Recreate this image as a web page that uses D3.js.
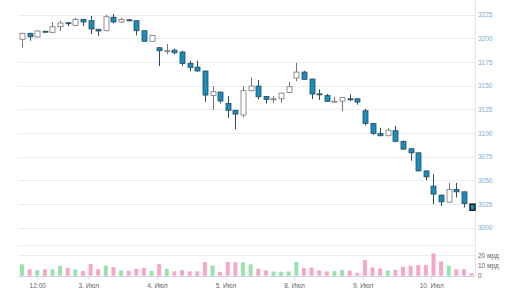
<!DOCTYPE html>
<html>
<head>
<meta charset="utf-8">
<script src="https://cdn.jsdelivr.net/npm/d3@7"></script>
<style>
  body { margin: 0; background: #fff; }
  svg { display: block; font-family: "Open Sans", sans-serif; }
  .domain { display: none; }
</style>
</head>
<body>
<svg width="516" height="290"></svg>
<script>
// hourly candles, 2 - 10 Jul
var openVals  = [3199, 3205.3, 3201.5, 3207.5, 3206.4, 3212.3, 3216.5, 3213.8, 3220.1, 3218.7,
                 3209.6, 3208.1, 3222.3, 3217.3, 3219.6, 3218.7, 3208.1, 3196.9, 3190.1, 3186.5,
                 3187.6, 3185.6, 3173.6, 3169.7, 3165.5, 3139.8, 3143.3, 3131.3, 3124, 3119,
                 3144.7, 3149.6, 3138.7, 3135.6, 3136.2, 3142.9, 3158.1, 3164.4, 3157, 3141.4,
                 3139.8, 3133.3, 3133.8, 3136.2, 3136.2, 3123.5, 3110.2, 3099.6, 3097.1, 3102.4,
                 3091.2, 3083.4, 3079.1, 3060, 3043.9, 3034.4, 3027, 3040.4, 3037.9, 3024.9];
var highVals  = [3206, 3206, 3208.5, 3208, 3217.3, 3218.7, 3217.3, 3221.5, 3220.5, 3223.6,
                 3210, 3225, 3225.7, 3221.6, 3220.5, 3219, 3208.5, 3203.5, 3190.5, 3194,
                 3189, 3187, 3176.4, 3176.4, 3165.8, 3149.6, 3143.5, 3139, 3124.5, 3149.6,
                 3158.8, 3156, 3139, 3139, 3142.5, 3153.9, 3174.3, 3165.8, 3157.5, 3146.2,
                 3141.2, 3138.3, 3138, 3140.8, 3136.5, 3125.6, 3110.5, 3105.5, 3105.5, 3107.6,
                 3092, 3084, 3079.5, 3060.5, 3056.6, 3035, 3047.4, 3047.4, 3038, 3025];
var lowVals   = [3190.5, 3197.5, 3201, 3206, 3206, 3207.8, 3212.7, 3213, 3213, 3204.6,
                 3202.5, 3207.5, 3215.9, 3216.5, 3218, 3203.2, 3196.5, 3196.5, 3170.8, 3183.4,
                 3183, 3170.8, 3165.2, 3165, 3133, 3124.3, 3131.3, 3115.8, 3104, 3116.5,
                 3144, 3135.6, 3131.3, 3131.3, 3132, 3142.5, 3154.6, 3156.5, 3135.9, 3134.9,
                 3133, 3133.2, 3123.2, 3133.5, 3129.9, 3108, 3098.2, 3096.8, 3096.8, 3091,
                 3082.5, 3070.7, 3059.5, 3050, 3024.9, 3022.8, 3026.5, 3032, 3021.4, 3018];
var closeVals = [3205.3, 3201.7, 3207.8, 3206.8, 3212.3, 3216.2, 3215.5, 3220.1, 3217.3, 3209.9,
                 3207.8, 3222.9, 3217.3, 3220.1, 3218.7, 3208.1, 3196.9, 3203.2, 3186.9, 3187,
                 3184.8, 3173.6, 3169.4, 3165.5, 3140.1, 3143.6, 3133.8, 3124, 3120, 3144.7,
                 3149.6, 3138.3, 3135.6, 3136.2, 3142.2, 3148.9, 3164.4, 3156.7, 3141.2, 3140.4,
                 3133.5, 3133.6, 3137.7, 3135.9, 3132.7, 3110.2, 3099.6, 3097.1, 3103, 3091.2,
                 3083, 3079.1, 3060, 3053.7, 3035.5, 3027.3, 3040.4, 3037.9, 3025.6, 3018.5];
// volume, billions
var volumeVals = [11, 6.2, 5.4, 6.2, 6.2, 9.5, 7.6, 6, 4.5, 11.2,
                  6.3, 9.8, 8.2, 5, 4.6, 6.6, 7.6, 4.7, 11.2, 6.7,
                  4.3, 5.4, 4.2, 4.2, 13.2, 9.8, 3.6, 13.2, 13, 13,
                  11, 6.7, 5.1, 4.1, 3.8, 4.1, 13.3, 7.3, 7.9, 5.1,
                  4.1, 4.4, 5.7, 4.8, 2.9, 15.2, 7.9, 7, 5.1, 5.7,
                  8.6, 9.5, 10.2, 10.2, 21.6, 13.7, 9.5, 6.3, 6.3, 2.5];

var priceTicks = [3000, 3025, 3050, 3075, 3100, 3125, 3150, 3175, 3200, 3225];
var volumeTicks = [0, 10, 20];
var volumeTickLabels = ["0", "10 мрд", "20 мрд"];
var volumeGrid = [20, 30];
var timeTicks = [2, 8.7, 17.7, 26.7, 35.7, 44.7, 53.7];
var timeTickLabels = ["12:00", "3. Июл", "4. Июл", "5. Июл", "8. Июл", "9. Июл", "10. Июл"];

var svg = d3.select("svg");

var candles = openVals.map(function(o, i) {
    return {i: i, open: o, high: highVals[i], low: lowVals[i], close: closeVals[i], vol: volumeVals[i]};
});

var x = d3.scaleLinear().domain([0, candles.length - 1]).range([22, 471.6]);
var y = d3.scaleLinear().domain([3000, 3225]).range([227.7, 14.7]);
var yv = d3.scaleLinear().domain([0, 20]).range([275.7, 255]);

var left = 18, right = 475;

// grid lines, price pane
svg.append("g").selectAll("line")
    .data(priceTicks)
    .enter().append("line")
    .attr("x1", left).attr("x2", right)
    .attr("y1", function(d) { return Math.round(y(d)) + 0.5; })
    .attr("y2", function(d) { return Math.round(y(d)) + 0.5; })
    .attr("stroke", "#ececec");

// grid lines, volume pane
svg.append("g").selectAll("line")
    .data(volumeGrid)
    .enter().append("line")
    .attr("x1", left).attr("x2", right)
    .attr("y1", function(d) { return Math.round(yv(d)) + 0.5; })
    .attr("y2", function(d) { return Math.round(yv(d)) + 0.5; })
    .attr("stroke", "#ececec");

// right border
svg.append("line")
    .attr("x1", right + 0.5).attr("x2", right + 0.5)
    .attr("y1", 0).attr("y2", 276)
    .attr("stroke", "#e6e6e6");

// price axis
var yAxis = svg.append("g")
    .attr("transform", "translate(477,0)")
    .call(d3.axisRight(y).tickValues(priceTicks).tickSize(0).tickPadding(1)
        .tickFormat(d3.format("d")));
yAxis.selectAll("text").attr("fill", "#79afd1").style("font-size", "6.5px");

// volume axis
var vAxis = svg.append("g")
    .attr("transform", "translate(477,0)")
    .call(d3.axisRight(yv).tickValues(volumeTicks).tickSize(0).tickPadding(1)
        .tickFormat(function(d, i) { return volumeTickLabels[i]; }));
vAxis.selectAll("text").attr("fill", "#666").style("font-size", "6.5px");

// time axis
svg.append("line")
    .attr("x1", left).attr("x2", right)
    .attr("y1", 276.5).attr("y2", 276.5)
    .attr("stroke", "#ccd6eb");
var xAxis = svg.append("g")
    .attr("transform", "translate(0,276.5)")
    .call(d3.axisBottom(x).tickValues(timeTicks).tickSize(3).tickPadding(4)
        .tickFormat(function(d, i) { return timeTickLabels[i]; }));
xAxis.selectAll("line").attr("stroke", "#ccd6eb");
xAxis.selectAll("text").attr("fill", "#666").style("font-size", "6.5px");

// volume bars
svg.append("g").selectAll("rect")
    .data(candles)
    .enter().append("rect")
    .attr("x", function(d) { return x(d.i) - 2; })
    .attr("y", function(d) { return yv(d.vol); })
    .attr("width", 4)
    .attr("height", function(d) { return yv(0) - yv(d.vol); })
    .attr("fill", function(d) { return d.close >= d.open ? "#98e2ae" : "#f7a6c6"; });

// candles
var cg = svg.append("g").selectAll("g")
    .data(candles)
    .enter().append("g");

cg.append("line")
    .attr("x1", function(d) { return Math.round(x(d.i)) + 0.5; })
    .attr("x2", function(d) { return Math.round(x(d.i)) + 0.5; })
    .attr("y1", function(d) { return y(d.high); })
    .attr("y2", function(d) { return y(d.low); })
    .attr("stroke", function(d) { return d.close >= d.open ? "#777" : "#2a4a5e"; });

cg.append("rect")
    .attr("x", function(d) { return Math.round(x(d.i)) - 2; })
    .attr("y", function(d) { return y(Math.max(d.open, d.close)); })
    .attr("width", 5)
    .attr("height", function(d) { return Math.max(1, Math.abs(y(d.open) - y(d.close))); })
    .attr("fill", function(d) { return d.close >= d.open ? "#fff" : "#1a8cbb"; })
    .attr("stroke", function(d, i) {
        if (i == candles.length - 1) return "#111";
        return d.close >= d.open ? "#777" : "#2a4a5e";
    })
    .attr("stroke-width", function(d, i) { return i == candles.length - 1 ? 1.4 : 0.8; });
</script>
</body>
</html>
